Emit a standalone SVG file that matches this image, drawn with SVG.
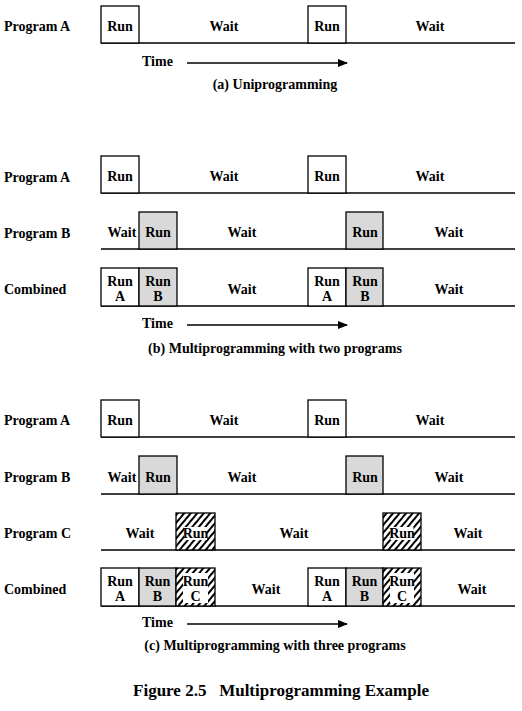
<svg xmlns="http://www.w3.org/2000/svg" width="522" height="711" viewBox="0 0 522 711">
<style>
text{font-family:"Liberation Serif","DejaVu Serif",serif;font-weight:bold;font-size:14px;fill:#000}
.m{text-anchor:middle}
.box{stroke:#000;stroke-width:1.3}
.run{fill:#fff}
.gray{fill:#d9d9d9}
.hatch{fill:url(#hatch)}
.base{stroke:#000;stroke-width:1.5;fill:none}
.arrow{stroke:#000;stroke-width:1.3;fill:none;marker-end:url(#ah)}
.cap{font-size:17px}
</style>
<defs>
<pattern id="hatch" width="5" height="5" patternUnits="userSpaceOnUse" patternTransform="rotate(40)">
<rect width="5" height="5" fill="#fff"/>
<rect x="0" y="0" width="2" height="5" fill="#000"/>
</pattern>
<marker id="ah" markerWidth="10" markerHeight="8" refX="9" refY="4" orient="auto" markerUnits="userSpaceOnUse">
<path d="M0,0 L10,4 L0,8 Z" fill="#000"/>
</marker>
</defs>

<!-- (a) Uniprogramming -->
<g id="a-programA">
<text x="4" y="31">Program A</text>
<line class="base" x1="101" y1="43" x2="515" y2="43"/>
<rect class="box run" x="101" y="6" width="38" height="37"/>
<text class="m" x="120" y="31">Run</text>
<text class="m" x="224" y="31">Wait</text>
<rect class="box run" x="308" y="6" width="38" height="37"/>
<text class="m" x="327" y="31">Run</text>
<text class="m" x="430" y="31">Wait</text>
</g>
<g id="a-time">
<text x="142" y="66">Time</text>
</g>
<text class="m" x="275" y="89">(a) Uniprogramming</text>

<!-- (b) Two programs -->
<g id="b-programA">
<text x="4" y="182">Program A</text>
<line class="base" x1="101" y1="193" x2="515" y2="193"/>
<rect class="box run" x="101" y="156" width="38" height="37"/>
<text class="m" x="120" y="181">Run</text>
<text class="m" x="224" y="181">Wait</text>
<rect class="box run" x="308" y="156" width="38" height="37"/>
<text class="m" x="327" y="181">Run</text>
<text class="m" x="430" y="181">Wait</text>
</g>
<g id="b-programB">
<text x="4" y="238">Program B</text>
<line class="base" x1="101" y1="249" x2="515" y2="249"/>
<text class="m" x="122" y="237">Wait</text>
<rect class="box gray" x="139" y="212" width="38" height="37"/>
<text class="m" x="158" y="237">Run</text>
<text class="m" x="242" y="237">Wait</text>
<rect class="box gray" x="346" y="212" width="37" height="37"/>
<text class="m" x="365" y="237">Run</text>
<text class="m" x="449" y="237">Wait</text>
</g>
<g id="b-combined">
<text x="4" y="294">Combined</text>
<line class="base" x1="101" y1="306" x2="515" y2="306"/>
<rect class="box run" x="101" y="268" width="38" height="38"/>
<text class="m" x="120" y="286">Run</text>
<text class="m" x="120" y="301">A</text>
<rect class="box gray" x="139" y="268" width="38" height="38"/>
<text class="m" x="158" y="286">Run</text>
<text class="m" x="158" y="301">B</text>
<text class="m" x="242" y="294">Wait</text>
<rect class="box run" x="308" y="268" width="38" height="38"/>
<text class="m" x="327" y="286">Run</text>
<text class="m" x="327" y="301">A</text>
<rect class="box gray" x="346" y="268" width="37" height="38"/>
<text class="m" x="365" y="286">Run</text>
<text class="m" x="365" y="301">B</text>
<text class="m" x="449" y="294">Wait</text>
</g>
<g id="b-time">
<text x="142" y="328">Time</text>
</g>
<text class="m" x="275" y="353">(b) Multiprogramming with two programs</text>

<!-- (c) Three programs -->
<g id="c-programA">
<text x="4" y="425">Program A</text>
<line class="base" x1="101" y1="437" x2="515" y2="437"/>
<rect class="box run" x="101" y="400" width="38" height="37"/>
<text class="m" x="120" y="425">Run</text>
<text class="m" x="224" y="425">Wait</text>
<rect class="box run" x="308" y="400" width="38" height="37"/>
<text class="m" x="327" y="425">Run</text>
<text class="m" x="430" y="425">Wait</text>
</g>
<g id="c-programB">
<text x="4" y="482">Program B</text>
<line class="base" x1="101" y1="494" x2="515" y2="494"/>
<text class="m" x="122" y="482">Wait</text>
<rect class="box gray" x="139" y="456" width="38" height="38"/>
<text class="m" x="158" y="482">Run</text>
<text class="m" x="242" y="482">Wait</text>
<rect class="box gray" x="346" y="456" width="37" height="38"/>
<text class="m" x="365" y="482">Run</text>
<text class="m" x="449" y="482">Wait</text>
</g>
<g id="c-programC">
<text x="4" y="538">Program C</text>
<line class="base" x1="101" y1="550" x2="515" y2="550"/>
<text class="m" x="140" y="538">Wait</text>
<rect class="box hatch" x="176" y="513" width="39" height="37"/>
<rect x="184" y="527" width="23" height="13" fill="#fff"/>
<text class="m" x="195.5" y="538">Run</text>
<text class="m" x="294" y="538">Wait</text>
<rect class="box hatch" x="383" y="513" width="38" height="37"/>
<rect x="390.5" y="527" width="23" height="13" fill="#fff"/>
<text class="m" x="402" y="538">Run</text>
<text class="m" x="468" y="538">Wait</text>
</g>
<g id="c-combined">
<text x="4" y="594">Combined</text>
<line class="base" x1="101" y1="606" x2="515" y2="606"/>
<rect class="box run" x="101" y="568" width="38" height="38"/>
<text class="m" x="120" y="586">Run</text>
<text class="m" x="120" y="601">A</text>
<rect class="box gray" x="139" y="568" width="37" height="38"/>
<text class="m" x="157.5" y="586">Run</text>
<text class="m" x="157.5" y="601">B</text>
<rect class="box hatch" x="176" y="568" width="39" height="38"/>
<rect x="183" y="573" width="25" height="30" fill="#fff"/>
<text class="m" x="195.5" y="586">Run</text>
<text class="m" x="195.5" y="601">C</text>
<text class="m" x="266" y="594">Wait</text>
<rect class="box run" x="308" y="568" width="38" height="38"/>
<text class="m" x="327" y="586">Run</text>
<text class="m" x="327" y="601">A</text>
<rect class="box gray" x="346" y="568" width="37" height="38"/>
<text class="m" x="364.5" y="586">Run</text>
<text class="m" x="364.5" y="601">B</text>
<rect class="box hatch" x="383" y="568" width="38" height="38"/>
<rect x="390" y="573" width="24" height="30" fill="#fff"/>
<text class="m" x="402" y="586">Run</text>
<text class="m" x="402" y="601">C</text>
<text class="m" x="472" y="594">Wait</text>
</g>
<g id="c-time">
<text x="142" y="627">Time</text>
</g>
<text class="m" x="275" y="650">(c) Multiprogramming with three programs</text>

<g id="connectors">
<line class="arrow" x1="187" y1="63" x2="347" y2="63"/>
<line class="arrow" x1="187" y1="325" x2="347" y2="325"/>
<line class="arrow" x1="187" y1="624" x2="347" y2="624"/>
</g>

<text class="m cap" x="281" y="696" xml:space="preserve">Figure 2.5   Multiprogramming Example</text>
</svg>
